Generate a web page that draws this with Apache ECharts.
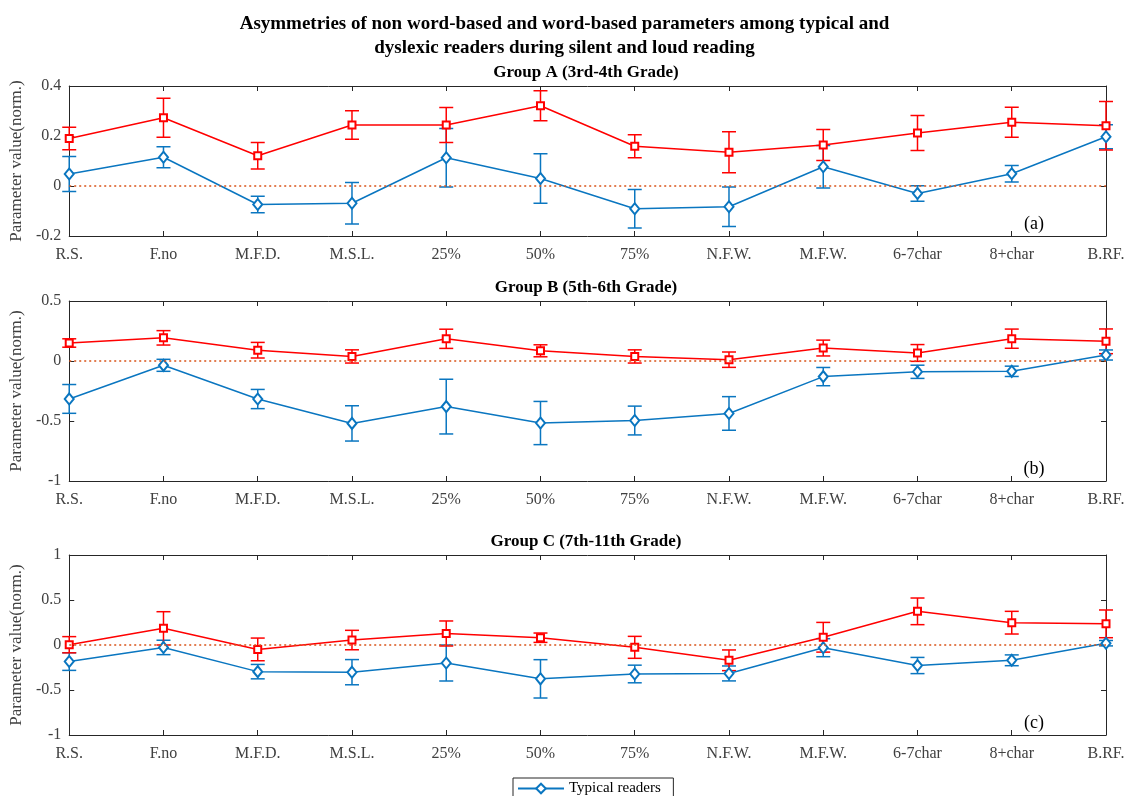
<!DOCTYPE html>
<html>
<head>
<meta charset="utf-8">
<script src="https://cdn.jsdelivr.net/npm/echarts@6/dist/echarts.min.js"></script>
<style>html,body{margin:0;padding:0;background:#fff;}#chart{width:1129px;height:796px;}</style>
</head>
<body>
<div id="chart"></div>
<script>
var categories = ['R.S.','F.no','M.F.D.','M.S.L.','25%','50%','75%','N.F.W.','M.F.W.','6-7char','8+char','B.RF.'];

var typicalA     = [0.048, 0.115, -0.074, -0.069, 0.113, 0.030, -0.091, -0.083, 0.077, -0.030, 0.049, 0.197];
var typicalAErr  = [0.070, 0.042, 0.033, 0.083, 0.117, 0.099, 0.077, 0.079, 0.085, 0.031, 0.033, 0.048];
var dyslexicA    = [0.190, 0.273, 0.121, 0.244, 0.244, 0.321, 0.159, 0.135, 0.164, 0.212, 0.255, 0.241];
var dyslexicAErr = [0.045, 0.078, 0.053, 0.057, 0.070, 0.060, 0.046, 0.082, 0.062, 0.070, 0.060, 0.097];

var typicalB     = [-0.316, -0.036, -0.317, -0.520, -0.380, -0.517, -0.496, -0.437, -0.130, -0.090, -0.086, 0.050];
var typicalBErr  = [0.120, 0.050, 0.080, 0.147, 0.228, 0.180, 0.120, 0.140, 0.076, 0.055, 0.043, 0.042];
var dyslexicB    = [0.150, 0.193, 0.090, 0.038, 0.185, 0.085, 0.038, 0.011, 0.108, 0.067, 0.186, 0.164];
var dyslexicBErr = [0.035, 0.060, 0.065, 0.055, 0.080, 0.050, 0.055, 0.064, 0.066, 0.070, 0.080, 0.103];

var typicalC     = [-0.184, -0.027, -0.296, -0.302, -0.200, -0.376, -0.322, -0.316, -0.030, -0.228, -0.170, 0.020];
var typicalCErr  = [0.098, 0.080, 0.080, 0.140, 0.200, 0.213, 0.098, 0.083, 0.100, 0.090, 0.060, 0.030];
var dyslexicC    = [0.003, 0.185, -0.049, 0.055, 0.128, 0.081, -0.026, -0.170, 0.086, 0.374, 0.248, 0.235];
var dyslexicCErr = [0.090, 0.185, 0.126, 0.108, 0.139, 0.052, 0.122, 0.115, 0.165, 0.148, 0.126, 0.154];

var yMin = [-0.2, -1, -1];
var yMax = [0.4, 0.5, 1];
var yInterval = [0.2, 0.5, 0.5];
var panelTitles = ['Group A (3rd-4th Grade)', 'Group B (5th-6th Grade)', 'Group C (7th-11th Grade)'];
var panelTags = ['(a)', '(b)', '(c)'];
var seriesNames = ['Typical readers', 'Dyslexic readers'];
var mainTitle = 'Asymmetries of non word-based and word-based parameters among typical and\ndyslexic readers during silent and loud reading';
var yName = 'Parameter value(norm.)';

var typicalAll = [typicalA, typicalB, typicalC];
var typicalErrAll = [typicalAErr, typicalBErr, typicalCErr];
var dyslexicAll = [dyslexicA, dyslexicB, dyslexicC];
var dyslexicErrAll = [dyslexicAErr, dyslexicBErr, dyslexicCErr];

var BLUE = '#0a76C0', RED = '#FF0000', ZERO = '#D95319', AX = '#262626', LBL = '#404040';
var FONT = '"Liberation Serif", "Times New Roman", serif';

var gridTops = [86, 301, 555];
var gridHeights = [150, 180, 180];

var grids = [], xAxes = [], yAxes = [], series = [], graphics = [];

function errData(m, e) {
  return m.map(function (v, i) { return [i, v - e[i], v + e[i]]; });
}
function errSeries(name, color, data, xi, yi) {
  return {
    type: 'custom', name: name + ' err', xAxisIndex: xi, yAxisIndex: yi, data: data, z: 3,
    renderItem: function (params, api) {
      var x = api.value(0);
      var lo = api.coord([x, api.value(1)]);
      var hi = api.coord([x, api.value(2)]);
      var w = 7;
      var st = { stroke: color, lineWidth: 1.5 };
      return { type: 'group', children: [
        { type: 'line', shape: { x1: lo[0], y1: lo[1], x2: hi[0], y2: hi[1] }, style: st },
        { type: 'line', shape: { x1: lo[0] - w, y1: lo[1], x2: lo[0] + w, y2: lo[1] }, style: st },
        { type: 'line', shape: { x1: hi[0] - w, y1: hi[1], x2: hi[0] + w, y2: hi[1] }, style: st }
      ]};
    }
  };
}

for (var p = 0; p < 3; p++) {
  grids.push({ left: 67, right: 23, top: gridTops[p], height: gridHeights[p] });
  xAxes.push({
    type: 'category', gridIndex: p, data: categories, boundaryGap: false, position: 'bottom',
    axisLine: { onZero: false, lineStyle: { color: AX, width: 1 } },
    axisTick: { inside: true, length: 5, lineStyle: { color: AX } },
    axisLabel: { color: LBL, fontFamily: FONT, fontSize: 16, margin: 11, interval: 0 },
    splitLine: { show: false }
  });
  xAxes.push({
    type: 'category', gridIndex: p, data: categories, boundaryGap: false, position: 'top',
    axisLine: { onZero: false, lineStyle: { color: AX, width: 1 } },
    axisTick: { inside: true, length: 5, lineStyle: { color: AX } },
    axisLabel: { show: false }, splitLine: { show: false }
  });
  yAxes.push({
    type: 'value', gridIndex: p, min: yMin[p], max: yMax[p], interval: yInterval[p], position: 'left',
    name: yName, nameLocation: 'middle', nameGap: 30, nameRotate: 90,
    nameTextStyle: { color: LBL, fontFamily: FONT, fontSize: 17 },
    axisLine: { show: true, onZero: false, lineStyle: { color: AX, width: 1 } },
    axisTick: { show: true, inside: true, length: 5, lineStyle: { color: AX } },
    axisLabel: { color: LBL, fontFamily: FONT, fontSize: 16, margin: 8 },
    splitLine: { show: false }
  });
  yAxes.push({
    type: 'value', gridIndex: p, min: yMin[p], max: yMax[p], interval: yInterval[p], position: 'right',
    axisLine: { show: true, onZero: false, lineStyle: { color: AX, width: 1 } },
    axisTick: { show: true, inside: true, length: 5, lineStyle: { color: AX } },
    axisLabel: { show: false }, splitLine: { show: false }
  });
  var xi = 2 * p, yi = 2 * p;
  series.push(errSeries(seriesNames[0], BLUE, errData(typicalAll[p], typicalErrAll[p]), xi, yi));
  series.push({
    type: 'line', name: seriesNames[0], xAxisIndex: xi, yAxisIndex: yi, data: typicalAll[p],
    symbol: 'emptyDiamond', symbolSize: [9, 11], z: 4,
    lineStyle: { color: BLUE, width: 1.5 }, itemStyle: { color: BLUE, borderColor: BLUE, borderWidth: 1.5 },
    markLine: {
      silent: true, symbol: 'none', label: { show: false },
      lineStyle: { type: [2, 3], color: ZERO, width: 1.5 },
      data: [{ yAxis: 0 }]
    }
  });
  series.push(errSeries(seriesNames[1], RED, errData(dyslexicAll[p], dyslexicErrAll[p]), xi, yi));
  series.push({
    type: 'line', name: seriesNames[1], xAxisIndex: xi, yAxisIndex: yi, data: dyslexicAll[p],
    symbol: 'emptyRect', symbolSize: 7, z: 4,
    lineStyle: { color: RED, width: 1.5 }, itemStyle: { color: RED, borderColor: RED, borderWidth: 1.2 }
  });
  graphics.push({
    type: 'text', z: 10,
    style: { text: panelTitles[p], x: 586, y: gridTops[p] - 13, textAlign: 'center', textVerticalAlign: 'middle',
             font: 'bold 17px ' + FONT, fill: '#000' }
  });
  graphics.push({
    type: 'text', z: 10,
    style: { text: panelTags[p], x: 1034, y: gridTops[p] + gridHeights[p] - 12, textAlign: 'center', textVerticalAlign: 'middle',
             font: '18px ' + FONT, fill: '#000' }
  });
}

var chart = echarts.init(document.getElementById('chart'), null, { renderer: 'canvas' });
chart.setOption({
  backgroundColor: '#fff',
  animation: false,
  title: {
    text: mainTitle, left: 'center', top: 7,
    textStyle: { fontFamily: FONT, fontWeight: 'bold', fontSize: 19, lineHeight: 24, color: '#000' }
  },
  legend: {
    data: [seriesNames[0], seriesNames[1]],
    orient: 'vertical', left: 513, top: 778, height: 80, itemWidth: 46, itemHeight: 12, itemGap: 6,
    padding: [3, 4, 4, 4], borderColor: AX, borderWidth: 1, backgroundColor: '#fff',
    textStyle: { fontFamily: FONT, fontSize: 15, color: '#000' }
  },
  grid: grids, xAxis: xAxes, yAxis: yAxes, series: series, graphic: graphics
});
</script>
</body>
</html>
